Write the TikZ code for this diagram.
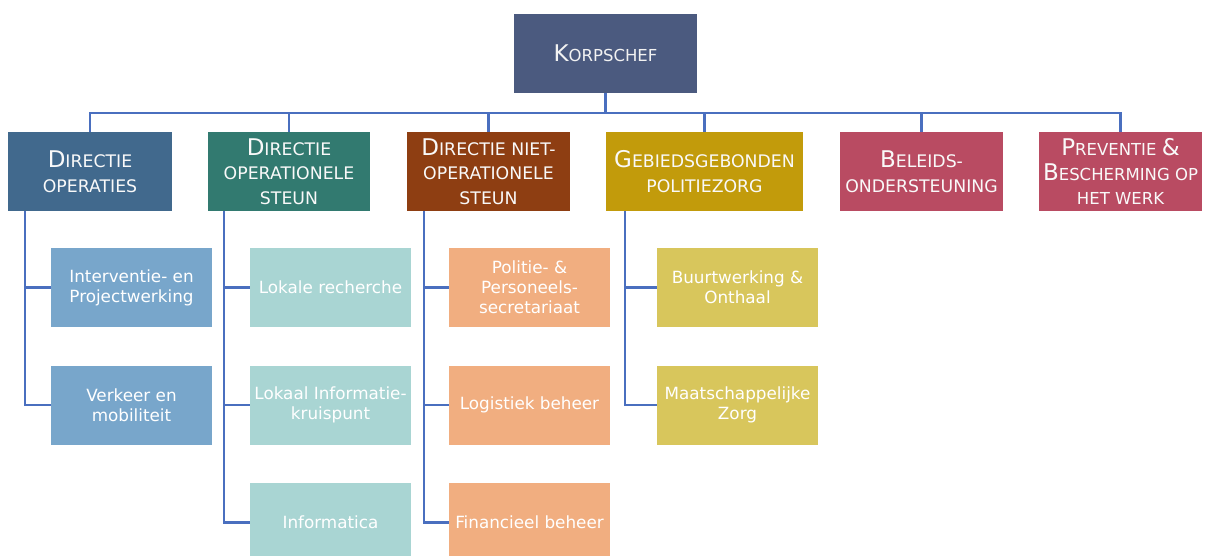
\documentclass[tikz,border=0pt]{standalone}
\usepackage{fontspec}
\setmainfont{DejaVu Sans}
\definecolor{cK}{HTML}{4B5A7F}
\definecolor{cA}{HTML}{41698D}
\definecolor{cB}{HTML}{327A70}
\definecolor{cC}{HTML}{8E3E12}
\definecolor{cD}{HTML}{C29B0B}
\definecolor{cE}{HTML}{B94B62}
\definecolor{lA}{HTML}{78A6CB}
\definecolor{lB}{HTML}{A9D5D3}
\definecolor{lC}{HTML}{F1AE80}
\definecolor{lD}{HTML}{D8C65C}
\definecolor{cLine}{HTML}{4A6FBF}
\newcommand\Bg[1]{{\fontsize{23}{24}\selectfont #1}}
\begin{document}
\begin{tikzpicture}[x=1pt,y=-1pt,
  head/.style={draw=none, minimum height=79pt, inner sep=0pt, align=center, text=white!95!gray,
    font=\fontsize{17.3}{24.5}\selectfont},
  sub/.style={draw=none, minimum width=161pt, minimum height=79pt, inner sep=0pt, align=center, text=white,
    font=\fontsize{16.8}{20}\selectfont},
  link/.style={draw=cLine, line width=2.9pt}]
\useasboundingbox (0,0) rectangle (1207,556);
\clip (0,0) rectangle (1207,556);
\fill[white] (0,0) rectangle (1207,556);
% top
\node[head, fill=cK, minimum width=183pt, text=white!90!gray, font=\fontsize{16.5}{24}\selectfont] (k) at (605.5,53.5) {\Bg{K}ORPSCHEF};
% directies
\node[head, fill=cA, minimum width=164pt] (d1) at (90,171.5) {\Bg{D}IRECTIE\\OPERATIES};
\node[head, fill=cB, minimum width=162pt] (d2) at (289,171.5) {\Bg{D}IRECTIE\\OPERATIONELE\\STEUN};
\node[head, fill=cC, minimum width=163pt] (d3) at (488.5,171.5) {\Bg{D}IRECTIE NIET-\\OPERATIONELE\\STEUN};
\node[head, fill=cD, minimum width=197pt] (d4) at (704.5,171.5) {\Bg{G}EBIEDSGEBONDEN\\POLITIEZORG};
\node[head, fill=cE, minimum width=163pt] (d5) at (921.5,171.5) {\Bg{B}ELEIDS-\\ONDERSTEUNING};
\node[head, fill=cE, minimum width=163pt, font=\fontsize{16.5}{24.5}\selectfont] (d6) at (1120.5,171.5) {\Bg{P}REVENTIE \Bg{\&}\\\Bg{B}ESCHERMING OP\\HET WERK};
% children
\node[sub, fill=lA] (a1) at (131.5,287.5) {Interventie- en\\Projectwerking};
\node[sub, fill=lA] (a2) at (131.5,405) {Verkeer en\\mobiliteit};
\node[sub, fill=lB] (b1) at (330.5,287.5) {Lokale recherche};
\node[sub, fill=lB] (b2) at (330.5,405) {Lokaal Informatie-\\kruispunt};
\node[sub, fill=lB] (b3) at (330.5,522.5) {Informatica};
\node[sub, fill=lC] (c1) at (529.5,287.5) {Politie- \&\\Personeels-\\secretariaat};
\node[sub, fill=lC] (c2) at (529.5,405) {Logistiek beheer};
\node[sub, fill=lC] (c3) at (529.5,522.5) {Financieel beheer};
\node[sub, fill=lD] (e1) at (737.5,287.5) {Buurtwerking \&\\Onthaal};
\node[sub, fill=lD] (e2) at (737.5,405) {Maatschappelijke\\Zorg};
% connectors
\coordinate (bus) at (605.5,113);
\draw[link] (k.south) -- (bus);
\foreach \d in {d1,d2,d3,d4,d5,d6} \draw[link] (bus) -| (\d.north);
\coordinate (t1) at (25,211);
\coordinate (t2) at (224,211);
\coordinate (t3) at (424,211);
\coordinate (t4) at (625,211);
\draw[link] (t1) |- (a1.west);
\draw[link] (t1) |- (a2.west);
\draw[link] (t2) |- (b1.west);
\draw[link] (t2) |- (b2.west);
\draw[link] (t2) |- (b3.west);
\draw[link] (t3) |- (c1.west);
\draw[link] (t3) |- (c2.west);
\draw[link] (t3) |- (c3.west);
\draw[link] (t4) |- (e1.west);
\draw[link] (t4) |- (e2.west);
\end{tikzpicture}
\end{document}
